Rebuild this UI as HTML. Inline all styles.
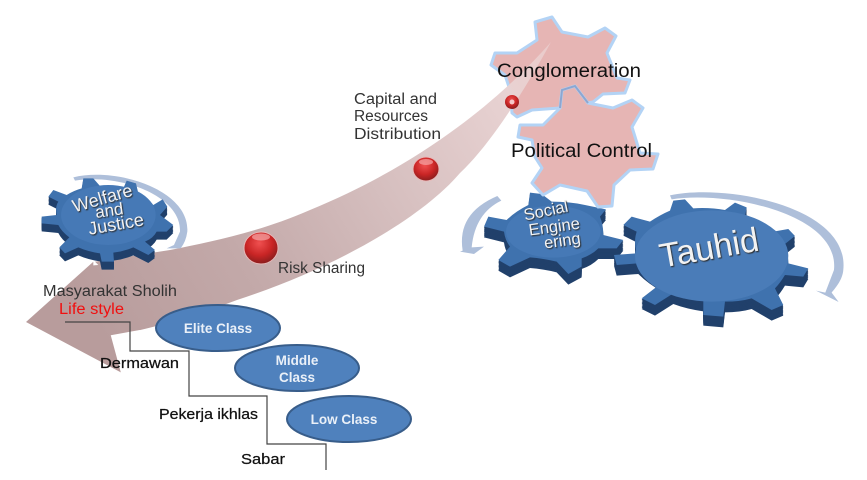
<!DOCTYPE html>
<html><head><meta charset="utf-8"><style>
html,body{margin:0;padding:0;background:#fff;width:867px;height:480px;overflow:hidden}
svg{display:block;filter:blur(.35px)}
text{font-family:"Liberation Sans",sans-serif}
</style></head><body>
<svg width="867" height="480" viewBox="0 0 867 480" xmlns="http://www.w3.org/2000/svg">
<defs>
<linearGradient id="arrow" gradientUnits="userSpaceOnUse" x1="551" y1="42" x2="90" y2="320">
<stop offset="0" stop-color="#eedada" stop-opacity=".55"/><stop offset=".12" stop-color="#e8d2d2"/><stop offset=".4" stop-color="#d6bfbf"/><stop offset=".7" stop-color="#c3a9a9"/><stop offset="1" stop-color="#b89c9c"/>
</linearGradient>
<radialGradient id="ball" cx=".45" cy=".35" r=".7">
<stop offset="0" stop-color="#f05050"/><stop offset=".55" stop-color="#c92525"/><stop offset="1" stop-color="#7d1c1c"/>
</radialGradient>
<path id="tg" d="M630,122 L640,92 L675,88 L700,115 Q750,112 795,120 L825,98 L860,112 L855,140 Q900,155 940,185 L985,177 L1005,198 L975,222 Q985,250 985,280 L1045,295 L1030,320 L975,315 Q960,340 945,355 L970,405 L935,420 L875,385 Q840,395 795,395 L790,440 L730,435 L730,392 Q680,385 640,370 L585,405 L545,385 L610,335 Q565,310 535,280 L470,285 L462,255 L530,250 Q520,215 530,185 L490,165 L515,140 L570,155 Q600,135 630,122Z"/>
<path id="sg" d="M205,105 L210,68 L245,72 L275,95 Q330,95 375,105 L438,118 L420,140 Q430,165 430,195 L490,210 L470,235 L415,235 Q395,255 365,265 L365,290 L325,312 L290,275 Q250,265 210,262 L150,290 L115,270 L150,230 Q135,210 132,185 L72,170 L85,140 L140,150 Q165,125 205,105Z"/>
<path id="wg" d="M215,85 L220,55 L250,55 L270,78 Q310,75 340,85 L350,62 L378,70 L385,100 Q415,115 430,135 L458,118 L472,140 L450,165 L490,195 L470,215 L440,215 Q430,235 405,245 L435,270 L415,285 L370,262 Q340,275 310,278 L312,305 L275,305 L270,280 Q235,275 205,262 L165,280 L148,262 L178,232 Q155,215 145,195 L95,190 L95,170 L140,165 Q135,140 145,125 L115,110 L130,90 L170,105 Q190,92 215,85Z"/>
</defs>
<rect width="867" height="480" fill="#fff"/>

<g transform="translate(460,170) scale(.3333)">
<path d="M630,76 C800,40 1170,110 1150,300 C1148,330 1125,355 1115,368 L1136,396 L1068,362 L1096,368 L1122,300 C1140,130 800,62 635,88Z" fill="#aebfda"/>
<path d="M112,78 L124,92 Q45,130 35,232 L72,230 L42,252 L0,245 L8,242 Q-10,130 112,78Z" fill="#aebfda"/>
<g fill="#21406b"><use href="#sg" y="32"/><use href="#sg" y="28"/><use href="#sg" y="24"/><use href="#sg" y="20"/><use href="#sg" y="16"/><use href="#sg" y="12"/><use href="#sg" y="8"/><use href="#sg" y="4"/></g>
<use href="#sg" fill="#3f72ae"/>
<ellipse cx="280" cy="185" rx="142" ry="78" fill="#4679b6"/>
<g fill="#21406b"><use href="#tg" y="32"/><use href="#tg" y="28"/><use href="#tg" y="24"/><use href="#tg" y="20"/><use href="#tg" y="16"/><use href="#tg" y="12"/><use href="#tg" y="8"/><use href="#tg" y="4"/></g>
<use href="#tg" fill="#3f72ae"/>
<ellipse cx="755" cy="258" rx="230" ry="137" fill="#4a7cb8"/>
</g>

<path d="M535,22 L552,17 L562,32 L588,37 L605,28 L616,36 L607,53 L617,78 L630,80 L625,93 L603,94 L593,102 L560,108 L532,110 L517,117 L512,113 L510,90 L505,75 L491,65 L495,53 L517,53 L537,40Z" fill="#e6b5b4" stroke="#b3d3f5" stroke-width="3" stroke-linejoin="round"/>
<path d="M562,90 L575,86 L588,103 L613,108 L632,100 L643,108 L632,127 L640,153 L658,154 L653,169 L630,170 L614,185 L612,206 L598,207 L587,191 L560,185 L543,195 L532,183 L542,168 L535,157 L532,140 L518,137 L520,125 L543,125 L560,108Z" fill="#e6b5b4" stroke="#b3d3f5" stroke-width="3" stroke-linejoin="round"/>
<path d="M560,108 L562,90 L575,86 L588,103" fill="none" stroke="#8ea6d0" stroke-width="2"/>

<path d="M551,42 C500,100 420,165 310,210 C260,232 210,242 170,250 L93,262 L26,322 L122,373 L112,336 C170,325 210,310 237,300 C330,270 420,220 460,173 C490,145 525,90 551,42Z" fill="url(#arrow)"/>
<path d="M122,373 L112,336 L140,331" fill="none" stroke="#fff" stroke-width="2"/>

<g transform="translate(10,160) scale(.3333)">
<path d="M190,52 C320,20 540,90 532,215 Q528,245 512,265 L470,265 L492,255 L510,215 C515,105 325,40 195,62Z" fill="#aebfda"/>
<path d="M250,300 L265,315 L250,316Z" fill="#fff"/>
<g fill="#21406b"><use href="#wg" y="24"/><use href="#wg" y="20"/><use href="#wg" y="16"/><use href="#wg" y="12"/><use href="#wg" y="8"/><use href="#wg" y="4"/></g>
<use href="#wg" fill="#3f72ae"/>
<ellipse cx="295" cy="165" rx="142" ry="90" fill="#4679b6"/>
</g>

<ellipse cx="261" cy="248" rx="17" ry="16" fill="url(#ball)" stroke="#e8b8b8" stroke-width="1"/>
<ellipse cx="261" cy="237" rx="9" ry="3.5" fill="#f7a8a8" opacity=".7"/>
<ellipse cx="426" cy="169" rx="13" ry="12" fill="url(#ball)" stroke="#e8b8b8" stroke-width="1"/>
<ellipse cx="426" cy="162" rx="7" ry="3" fill="#f7a8a8" opacity=".7"/>
<circle cx="512" cy="102" r="7" fill="url(#ball)"/>
<circle cx="512" cy="102" r="2.5" fill="#f6c8c8"/>

<g fill="#4f81bd" stroke="#385d8a" stroke-width="2">
<ellipse cx="218" cy="328" rx="62" ry="23"/>
<ellipse cx="297" cy="368" rx="62" ry="23"/>
<ellipse cx="349" cy="419" rx="62" ry="23"/>
</g>

<path d="M65,322 H130 V351 H189 V396 H267 V444 H326 V470" fill="none" stroke="#444" stroke-width="1.2"/>

<g fill="#111">
<text x="497" y="77" font-size="19" textLength="144" lengthAdjust="spacingAndGlyphs">Conglomeration</text>
<text x="511" y="157" font-size="19" textLength="141" lengthAdjust="spacingAndGlyphs">Political Control</text>
</g>
<g fill="#333" font-size="15.5">
<text x="354" y="104" textLength="83" lengthAdjust="spacingAndGlyphs">Capital and</text>
<text x="354" y="121" textLength="74" lengthAdjust="spacingAndGlyphs">Resources</text>
<text x="354" y="139" textLength="87" lengthAdjust="spacingAndGlyphs">Distribution</text>
<text x="278" y="273" textLength="87" lengthAdjust="spacingAndGlyphs">Risk Sharing</text>
<text x="43" y="296" textLength="134" lengthAdjust="spacingAndGlyphs">Masyarakat Sholih</text>
</g>
<text x="59" y="314" font-size="15.5" fill="#f01010" textLength="65" lengthAdjust="spacingAndGlyphs">Life style</text>
<g fill="#111" font-size="15" stroke="#111" stroke-width=".25">
<text x="100" y="368" textLength="79" lengthAdjust="spacingAndGlyphs">Dermawan</text>
<text x="159" y="419" textLength="99" lengthAdjust="spacingAndGlyphs">Pekerja ikhlas</text>
<text x="241" y="464" textLength="44" lengthAdjust="spacingAndGlyphs">Sabar</text>
</g>
<g fill="#eaf0f8" font-size="13.5" font-weight="bold" text-anchor="middle">
<text x="218" y="333">Elite Class</text>
<text x="297" y="365">Middle</text>
<text x="297" y="382">Class</text>
<text x="344" y="424">Low Class</text>
</g>

<g fill="#f2f2f2" text-anchor="middle" style="filter:drop-shadow(1px 1px .6px #2a2a2a)">
<text transform="translate(711,259) rotate(-10)" font-size="34">Tauhid</text>
<text transform="translate(547,216) rotate(-12)" font-size="16.5">Social</text>
<text transform="translate(555,232) rotate(-8)" font-size="16.5">Engine</text>
<text transform="translate(563,246) rotate(-8)" font-size="16.5">ering</text>
<text transform="translate(104,204) rotate(-16)" font-size="18">Welfare</text>
<text transform="translate(110,216) rotate(-8)" font-size="17">and</text>
<text transform="translate(117,230) rotate(-10)" font-size="18">Justice</text>
</g>
</svg>
</body></html>
